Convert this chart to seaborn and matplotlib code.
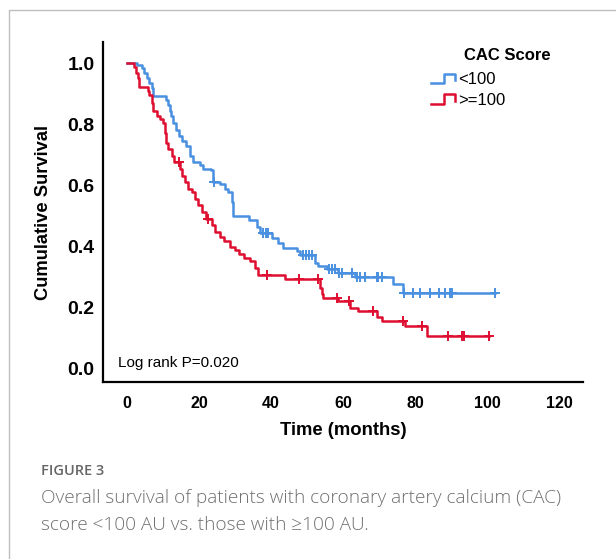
import numpy as np
import matplotlib
matplotlib.use("Agg")
import matplotlib.pyplot as plt
import seaborn as sns
from matplotlib.legend_handler import HandlerBase
from matplotlib.lines import Line2D

# Kaplan-Meier steps (time in months, survival after the step)
low_times = [0, 2.7, 4.1, 4.8, 5.5, 6.2, 6.9, 7.3, 10.8, 11.3, 11.8, 12.3, 12.8, 13.5,
             14.3, 15.2, 16.4, 17.4, 18.4, 20.3, 21.2, 23.4, 24.0, 25.8, 27.2, 28.1,
             29.1, 29.4, 34.0, 36.0, 37.0, 40.2, 42.0, 43.4, 47.1, 48.0, 52.2, 53.1,
             55.5, 58.7, 63.3, 74.0, 76.8]
low_surv = [1.0, 0.994, 0.984, 0.968, 0.951, 0.935, 0.919, 0.894, 0.881, 0.865, 0.843,
            0.827, 0.805, 0.783, 0.762, 0.746, 0.730, 0.697, 0.675, 0.665, 0.654, 0.649,
            0.612, 0.605, 0.589, 0.578, 0.545, 0.500, 0.486, 0.462, 0.445, 0.426, 0.410,
            0.394, 0.383, 0.372, 0.345, 0.334, 0.327, 0.313, 0.299, 0.275, 0.248]
low_censor = [24.2, 37.8, 38.5, 39.2, 49.0, 49.8, 50.6, 51.4, 56.2, 57.0, 57.8, 58.9,
              59.6, 62.4, 63.8, 64.7, 66.1, 69.4, 69.8, 70.7, 77.0, 79.4, 81.4, 84.2,
              86.8, 88.3, 89.7, 90.2, 102.2]

high_times = [0, 1.8, 2.4, 2.9, 3.4, 5.7, 6.2, 6.8, 7.2, 8.2, 9.1, 10.0, 10.5, 10.9,
              11.5, 12.4, 13.0, 14.8, 15.2, 16.1, 17.0, 18.0, 18.9, 19.8, 20.7, 21.8,
              23.5, 24.4, 25.8, 26.8, 28.6, 30.0, 31.0, 32.5, 34.2, 35.6, 36.4, 43.9,
              53.6, 54.1, 54.5, 58.7, 61.9, 64.3, 69.4, 70.7, 77.2, 83.3]
high_surv = [1.0, 0.989, 0.968, 0.951, 0.924, 0.908, 0.897, 0.870, 0.843, 0.827, 0.816,
             0.805, 0.773, 0.740, 0.718, 0.697, 0.675, 0.654, 0.632, 0.610, 0.589, 0.578,
             0.556, 0.535, 0.513, 0.491, 0.470, 0.448, 0.432, 0.416, 0.399, 0.389, 0.375,
             0.362, 0.351, 0.330, 0.305, 0.294, 0.264, 0.242, 0.231, 0.221, 0.199, 0.188,
             0.167, 0.156, 0.140, 0.107]
high_censor = [14.4, 22.6, 38.8, 47.9, 53.1, 58.2, 61.8, 68.4, 76.8, 81.9, 89.3, 93.2,
               93.6, 100.6]

groups = ["<100", ">=100"]
colors = ["#4a90e0", "#de0f30"]

plt.rcParams['font.family'] = ['Liberation Sans', 'DejaVu Sans']

fig = plt.figure(figsize=(6.16, 5.59), dpi=100)
ax = fig.add_axes([103 / 616, 1 - 382 / 559, 480 / 616, 340 / 559])

handles = []
for times, surv, cens, col in [(low_times, low_surv, low_censor, colors[0]),
                               (high_times, high_surv, high_censor, colors[1])]:
    times = np.array(times)
    surv = np.array(surv)
    end = max(cens[-1], times[-1])
    xs = np.append(times, end)
    ys = np.append(surv, surv[-1])
    sns.lineplot(x=xs, y=ys, drawstyle='steps-post', estimator=None, sort=False,
                 color=col, linewidth=1.8, ax=ax)
    idx = np.searchsorted(times, cens, side='right') - 1
    sns.scatterplot(x=cens, y=surv[idx], marker='+', s=45, color=col,
                    linewidth=1.4, ax=ax, zorder=3)
    handles.append(Line2D([], [], color=col))


class StepHandler(HandlerBase):
    def create_artists(self, legend, orig_handle, xdescent, ydescent, width, height,
                       fontsize, trans):
        x0, y0 = -xdescent, -ydescent
        xs = [x0, x0 + 0.5 * width, x0 + 0.5 * width, x0 + 0.95 * width, x0 + 0.95 * width]
        ys = [y0 + 0.1 * height, y0 + 0.1 * height, y0 + 0.9 * height, y0 + 0.9 * height,
              y0 + 0.35 * height]
        return [Line2D(xs, ys, color=orig_handle.get_color(), lw=1.8, transform=trans)]


ax.legend(handles, groups, handler_map={Line2D: StepHandler()}, frameon=False,
          loc='upper left', bbox_to_anchor=(431 / 616, 1 - 72 / 559),
          bbox_transform=fig.transFigure, borderpad=0, borderaxespad=0,
          handlelength=1.5, handletextpad=0.15, labelspacing=0.35, fontsize=12)
fig.text(507 / 616, 1 - 55 / 559, "CAC Score", ha='center', va='center',
         fontsize=12, fontweight='bold')

ax.set_xlim(-6.7, 126.7)
ax.set_ylim(-0.045, 1.07)
ax.set_xticks([0, 20, 40, 60, 80, 100, 120])
ax.set_yticks([0.0, 0.2, 0.4, 0.6, 0.8, 1.0])
ax.set_xticklabels(['0', '20', '40', '60', '80', '100', '120'], fontweight='bold')
ax.set_yticklabels(['0.0', '0.2', '0.4', '0.6', '0.8', '1.0'], fontweight='bold')
ax.tick_params(axis='x', length=0, pad=10, labelsize=11.5)
ax.tick_params(axis='y', length=0, pad=6, labelsize=14)
for side in ['top', 'right']:
    ax.spines[side].set_visible(False)
for side in ['left', 'bottom']:
    ax.spines[side].set_linewidth(1.6)
    ax.spines[side].set_color('black')
ax.set_xlabel('Time (months)', fontsize=13.3, fontweight='bold', labelpad=8)
ax.set_ylabel('Cumulative Survival', fontsize=13.2, fontweight='bold', labelpad=11)
ax.text(118 / 616, 1 - 363 / 559, 'Log rank P=0.020', transform=fig.transFigure,
        ha='left', va='center', fontsize=11)

# card border and caption
fig.add_artist(Line2D([9 / 616, 9 / 616, 1], [0, 1 - 10 / 559, 1 - 10 / 559],
                      color='#bdbdbd', lw=1, transform=fig.transFigure))
fig.text(41 / 616, 1 - 471 / 559, 'FIGURE 3', fontsize=10.5, color='#666666',
         family='Open Sans', fontweight='semibold', va='center')
fig.text(41 / 616, 1 - 498 / 559,
         'Overall survival of patients with coronary artery calcium (CAC)',
         fontsize=13.7, color='#707070', family='Open Sans', fontweight='light',
         va='center')
fig.text(41 / 616, 1 - 525 / 559, 'score <100 AU vs. those with \u2265100 AU.',
         fontsize=13.7, color='#707070', family='Open Sans', fontweight='light',
         va='center')

fig.savefig('out.png', dpi=100)
